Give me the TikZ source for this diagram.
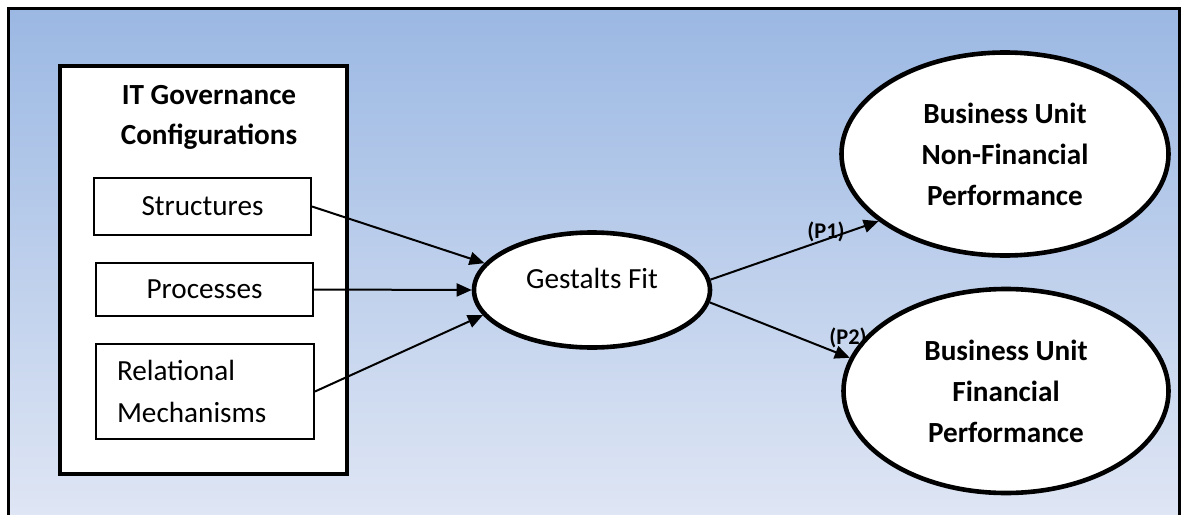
\documentclass[tikz,border=0pt]{standalone}
\usepackage{fontspec}
\setmainfont{Carlito}
\usetikzlibrary{shapes.geometric,arrows.meta,positioning}

\definecolor{bgtop}{RGB}{155,184,227}
\definecolor{bgbottom}{RGB}{226,232,245}

\tikzset{
  itembox/.style={draw,line width=1pt,fill=white,minimum width=108.5pt,
    inner sep=0pt,font=\fontsize{14.6}{21}\selectfont},
  construct/.style={ellipse,draw,line width=2.3pt,fill=white,inner sep=0pt,
    align=center,font=\fontsize{14.6}{20.5}\selectfont\bfseries},
  path link/.style={line width=1pt,-{Triangle[length=7.5pt,width=6.5pt]}},
  plabel/.style={font=\fontsize{11.2}{13}\selectfont\bfseries,inner sep=0pt},
}

\begin{document}
\begin{tikzpicture}[x=0.5pt,y=-0.5pt]
        \clip (0,0) rectangle (1183,514);
        % shaded frame, open at the bottom
        \draw[line width=1.5pt,top color=bgtop,bottom color=bgbottom] (8,8) rectangle (1179,540);

        % governance block
        \node[draw,line width=2pt,fill=white,minimum width=143.5pt,minimum height=204pt,inner sep=0pt] (gov) at (203.5,270) {};
        \node[align=center,font=\fontsize{14.6}{20}\selectfont\bfseries] (govtitle) at (209,117) {IT Governance\\Configurations};
        \node[itembox,minimum height=28.5pt] (struct) at (202.5,206.5) {Structures};
        \node[itembox,minimum height=26.5pt] (proc) at (204.5,289.5) {Processes};
        \node[itembox,minimum width=109pt,minimum height=47.5pt,inner xsep=10.5pt,text width=88pt,align=left] (rel) at (205,391.5) {Relational\\Mechanisms};

        % fit and outcomes
        \node[construct,minimum width=118pt,minimum height=57.5pt] (fit) at (592,290) {};
        \node[font=\fontsize{14.6}{16}\selectfont] (fitlabel) at (592,278) {Gestalts Fit};
        \node[construct,minimum width=163.5pt,minimum height=101.5pt] (nonfin) at (1005,154) {Business Unit\\Non-Financial\\Performance};
        \node[construct,minimum width=162.5pt,minimum height=102pt] (fin) at (1006,391) {Business Unit\\Financial\\Performance};

        \draw[path link] (struct.east) -- (fit.166);
        \draw[path link] (proc.east) -- (fit.west);
        \draw[path link] (rel.east) -- (fit.193);
        \draw[path link] (fit.5) -- (nonfin.208);
        \draw[path link] (fit.354) -- (fin.168);

        \node[plabel] (p1) at (826,232) {(P1)};
        \node[plabel] (p2) at (848,338) {(P2)};
    \end{tikzpicture}
\end{document}
